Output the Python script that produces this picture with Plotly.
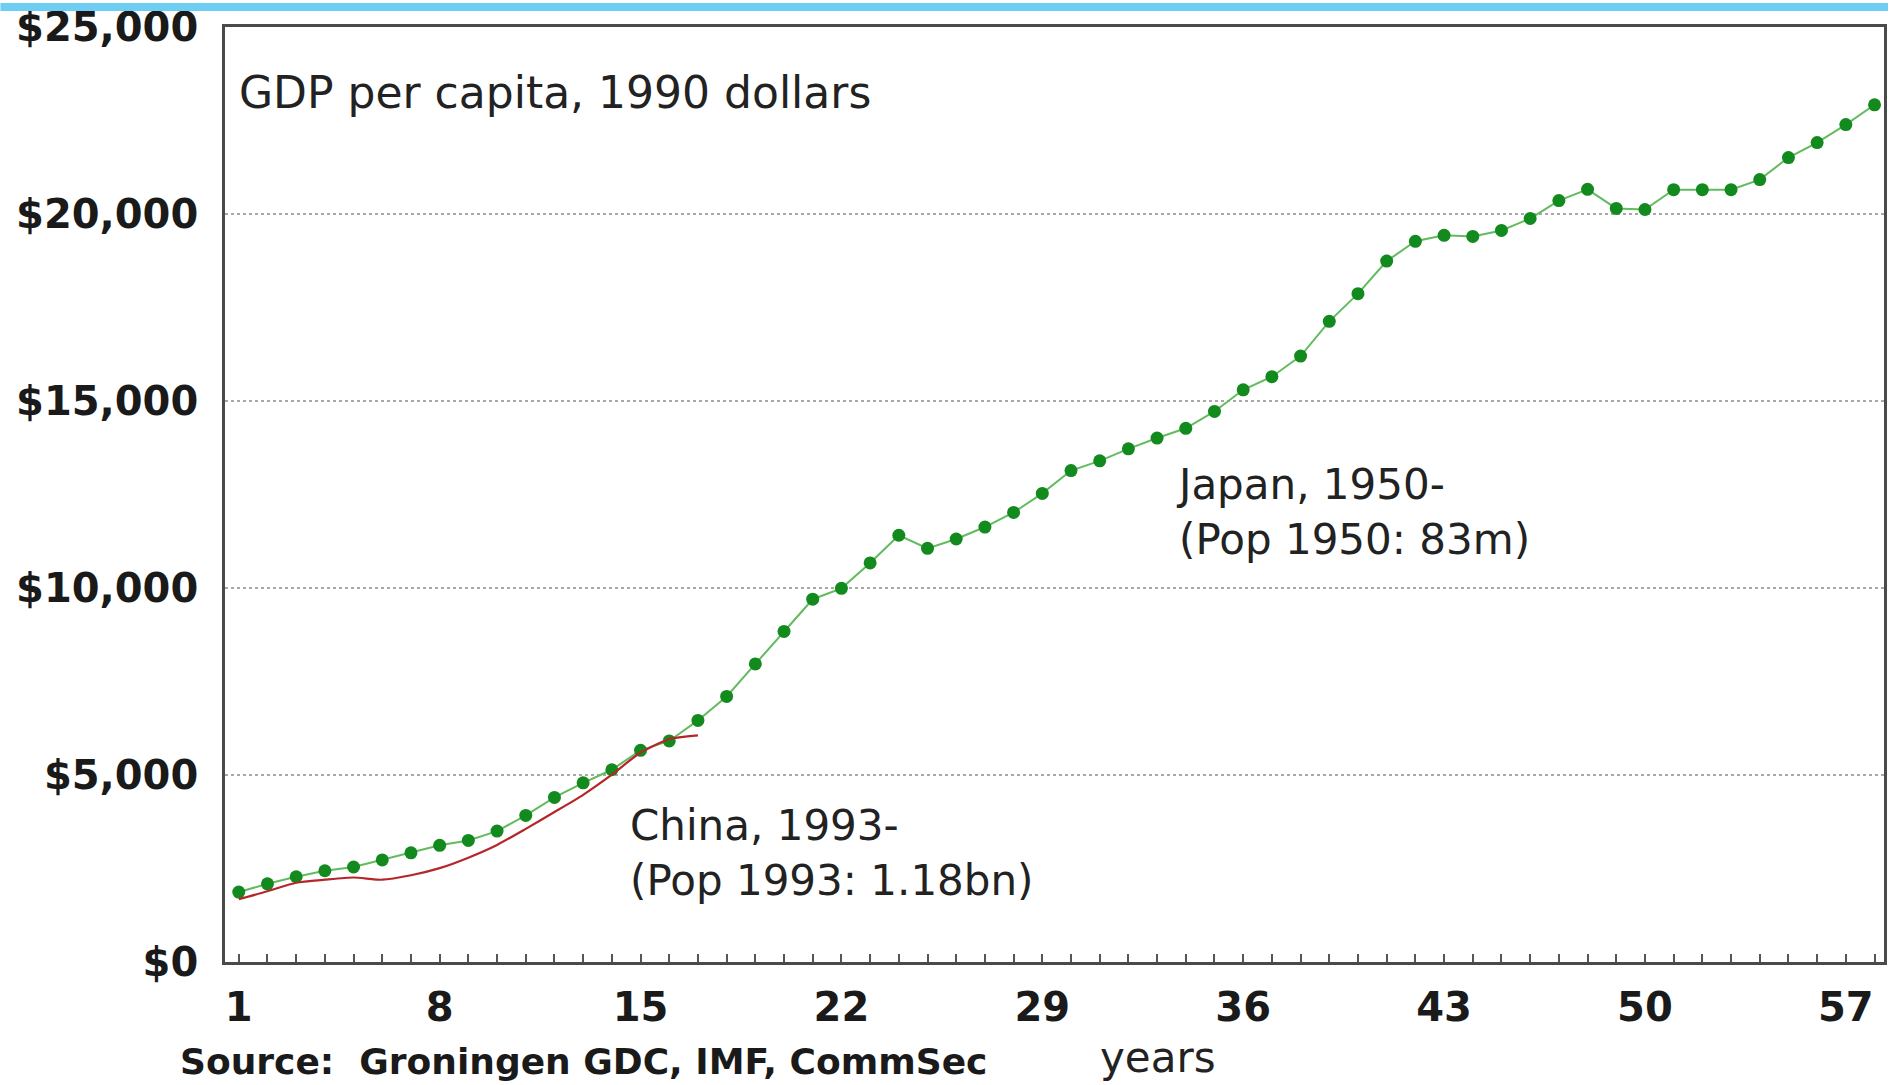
import plotly.graph_objects as go

# ---- data ----
years_japan = list(range(1, 59))
japan_gdp = [1870, 2090, 2280, 2440, 2540, 2730, 2920, 3120, 3250, 3500,
             3920, 4400, 4790, 5140, 5660, 5910, 6460, 7100, 7970, 8840,
             9700, 9990, 10670, 11410, 11060, 11310, 11630, 12020, 12530, 13140,
             13400, 13720, 14010, 14270, 14720, 15300, 15650, 16200, 17130, 17870,
             18740, 19270, 19430, 19400, 19560, 19880, 20360, 20660, 20150, 20120,
             20650, 20650, 20650, 20920, 21510, 21910, 22390, 22920]

years_china = list(range(1, 18))
china_gdp = [1680, 1890, 2120, 2200, 2260, 2200, 2320, 2510, 2790, 3130,
             3560, 4010, 4470, 5010, 5600, 5960, 6060]

x_tick_labels = [1, 8, 15, 22, 29, 36, 43, 50, 57]
y_tick_values = [0, 5000, 10000, 15000, 20000, 25000]
y_tick_labels = ["$0", "$5,000", "$10,000", "$15,000", "$20,000", "$25,000"]

W, H = 1891, 1085
L, R, T, B = 225, 4, 24, 123
PW, PH = W - L - R, H - T - B


def px(xpix):
    return (xpix - L) / PW


def py(ypix):
    return (H - B - ypix) / PH


fig = go.Figure()
fig.add_trace(go.Scatter(
    x=years_japan, y=japan_gdp, mode="lines+markers",
    line=dict(color="#62bb5f", width=2),
    marker=dict(color="#128a1e", size=13, line=dict(width=0)),
    showlegend=False, hoverinfo="skip"))
fig.add_trace(go.Scatter(
    x=years_china, y=china_gdp, mode="lines",
    line=dict(color="#b5262a", width=2.2, shape="spline", smoothing=0.6),
    showlegend=False, hoverinfo="skip"))

tick_font = dict(family="DejaVu Sans", size=40, color="#1a1a1a", weight="bold")
ann_font = dict(family="DejaVu Sans", size=42, color="#222222")

fig.update_layout(
    width=W, height=H,
    margin=dict(l=L, r=R, t=T, b=B, pad=0),
    paper_bgcolor="white", plot_bgcolor="white",
    xaxis=dict(
        range=[0.52, 58.33],
        tickmode="array", tickvals=x_tick_labels,
        ticktext=[str(v) for v in x_tick_labels],
        ticks="inside", ticklen=8, tickwidth=1.5, tickcolor="#555555",
        minor=dict(ticks="inside", dtick=1, tick0=1, ticklen=8,
                   tickwidth=1.5, tickcolor="#555555", showgrid=False),
        showgrid=False, zeroline=False,
        showline=True, linecolor="#4a4a4a", linewidth=2.5, mirror=True,
        tickfont=tick_font, ticklabelstandoff=8,
    ),
    yaxis=dict(
        range=[0, 25000],
        tickmode="array", tickvals=y_tick_values, ticktext=y_tick_labels,
        ticks="", showgrid=True, gridcolor="#a8a8a8", gridwidth=1.6,
        griddash="dot", zeroline=False,
        showline=True, linecolor="#4a4a4a", linewidth=2.5, mirror=True,
        tickfont=tick_font, ticklabelstandoff=16,
    ),
    shapes=[dict(type="rect", xref="paper", yref="paper",
                 x0=px(0), x1=px(W), y0=py(8), y1=py(0),
                 fillcolor="#6ecdf3", line=dict(width=0), layer="above")],
    annotations=[
        dict(text="GDP per capita, 1990 dollars", xref="paper", yref="paper",
             x=px(237), y=py(90), xanchor="left", yanchor="middle",
             showarrow=False, font=dict(family="DejaVu Sans", size=44, color="#222222")),
        dict(text="Japan, 1950-<br>(Pop 1950: 83m)", xref="paper", yref="paper",
             x=px(1176), y=py(511), xanchor="left", yanchor="middle", align="left",
             showarrow=False, font=ann_font),
        dict(text="China, 1993-<br>(Pop 1993: 1.18bn)", xref="paper", yref="paper",
             x=px(629), y=py(853), xanchor="left", yanchor="middle", align="left",
             showarrow=False, font=ann_font),
        dict(text="Source:  Groningen GDC, IMF, CommSec", xref="paper", yref="paper",
             x=px(178), y=py(1062), xanchor="left", yanchor="middle",
             showarrow=False,
             font=dict(family="DejaVu Sans", size=36, color="#1a1a1a", weight="bold")),
        dict(text="years", xref="paper", yref="paper",
             x=px(1100), y=py(1058), xanchor="left", yanchor="middle",
             showarrow=False, font=dict(family="DejaVu Sans", size=42, color="#222222")),
    ],
)

fig.write_html("out.html")
